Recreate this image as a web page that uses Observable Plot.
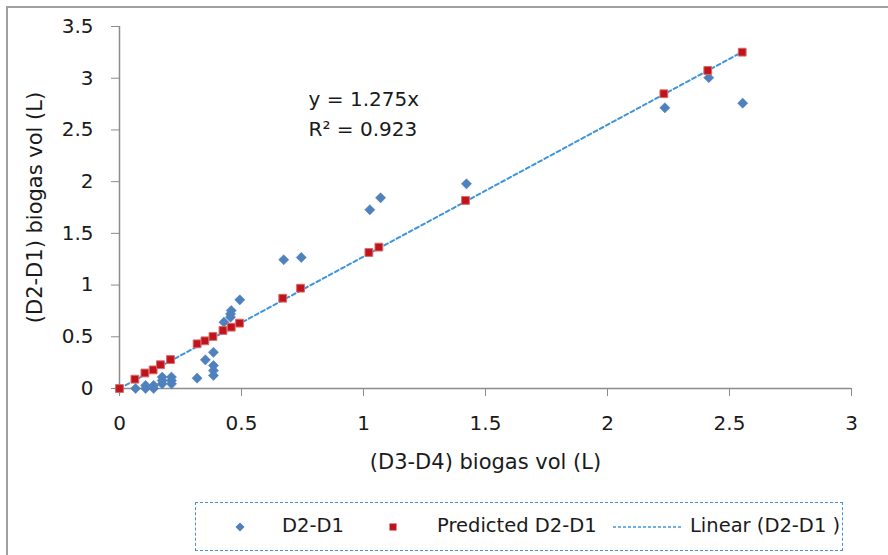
<!DOCTYPE html>
<html><head><meta charset="utf-8">
<script src="https://cdn.jsdelivr.net/npm/d3@7"></script>
<script src="https://cdn.jsdelivr.net/npm/@observablehq/plot@0.6"></script>
<style>
body{margin:0;background:#fff;}
#wrap{position:relative;width:888px;height:555px;overflow:hidden;font-family:"DejaVu Sans",sans-serif;background:#fff;}
#frame{position:absolute;left:6px;top:6px;width:900px;height:600px;border-left:2px solid #a0a0a0;border-top:2px solid #a0a0a0;pointer-events:none;}
#chart{position:absolute;left:0;top:0;}
#legend{position:absolute;left:195px;top:502px;width:648px;height:49px;border:1.5px dashed #4a8fd0;box-sizing:border-box;font-size:19.5px;color:#1a1a1a;}
#legend .it{position:absolute;top:0;height:46px;line-height:46px;white-space:nowrap;}
</style></head>
<body>
<div id="wrap">
  <div id="chart"></div>
  <div id="frame"></div>
  <div id="legend"></div>
</div>
<script>
// observed D2-D1 vs (D3-D4)
const obsX = [0, 0.066, 0.107, 0.107, 0.14, 0.14, 0.175, 0.175, 0.175, 0.213, 0.213, 0.213, 0.318, 0.352, 0.385, 0.385, 0.385, 0.385, 0.428, 0.455, 0.455, 0.458, 0.493, 0.673, 0.745, 1.026, 1.07, 1.422, 2.235, 2.415, 2.554];
const obsY = [0, 0, 0, 0.03, 0, 0.03, 0.045, 0.077, 0.11, 0.045, 0.077, 0.11, 0.1, 0.277, 0.35, 0.222, 0.174, 0.126, 0.641, 0.69, 0.72, 0.754, 0.857, 1.245, 1.267, 1.728, 1.844, 1.979, 2.714, 3.005, 2.759];
// predicted D2-D1
const predX = [0, 0.063, 0.104, 0.138, 0.168, 0.209, 0.318, 0.35, 0.383, 0.424, 0.458, 0.492, 0.669, 0.742, 1.022, 1.063, 1.418, 2.231, 2.411, 2.552];
const predY = [0, 0.09, 0.15, 0.18, 0.23, 0.28, 0.432, 0.461, 0.503, 0.561, 0.593, 0.632, 0.873, 0.97, 1.315, 1.367, 1.818, 2.85, 3.075, 3.252];
// linear trendline (through origin)
const slope = 1.275;
const r2 = 0.923;
const trendX = [0, 2.552];
const xTicks = [0, 0.5, 1, 1.5, 2, 2.5, 3];
const yTicks = [0, 0.5, 1, 1.5, 2, 2.5, 3, 3.5];
const eqLines = [`y = ${slope}x`, `R² = ${r2}`];
const eqX = [0.775, 0.775];
const eqY = [2.79, 2.5];
const legendLabels = ["D2-D1", "Predicted D2-D1", "Linear (D2-D1 )"];

const obs = obsX.map((x, i) => ({x, y: obsY[i]}));
const pred = predX.map((x, i) => ({x, y: predY[i]}));
const trend = trendX.map(x => ({x, y: slope * x}));
const eq = eqLines.map((t, i) => ({t, x: eqX[i], y: eqY[i]}));

const gray = "#8c8c8c";
const blue = "#4f81bd";
const red = "#c0141c";
const lineBlue = "#3f95dc";
const fmt = d => String(d);

const chart = Plot.plot({
  width: 888, height: 555,
  marginLeft: 119, marginRight: 37, marginTop: 26, marginBottom: 167,
  style: {fontFamily: "DejaVu Sans, sans-serif", fontSize: "20px", color: "#1a1a1a", background: "transparent"},
  x: {domain: [0, 3]},
  y: {domain: [0, 3.5]},
  marks: [
    Plot.axisX({ticks: xTicks, tickFormat: fmt, tickSize: 8, tickPadding: 19, stroke: gray, fill: "#1a1a1a", label: null}),
    Plot.axisX({ticks: [], label: "(D3-D4) biogas vol (L)", labelAnchor: "center", labelArrow: "none", labelOffset: 80, fontSize: 21, fill: "#1a1a1a"}),
    Plot.axisY({ticks: yTicks, tickFormat: fmt, tickSize: 8, tickPadding: 18, stroke: gray, fill: "#1a1a1a", label: null}),
    Plot.axisY({ticks: [], label: "(D2-D1) biogas vol (L)", labelAnchor: "center", labelArrow: "none", labelOffset: 92, fontSize: 21, fill: "#1a1a1a"}),
    Plot.ruleY([0], {stroke: gray, strokeWidth: 1.5}),
    Plot.ruleX([0], {stroke: gray, strokeWidth: 1.5}),
    Plot.line(trend, {x: "x", y: "y", stroke: lineBlue, strokeWidth: 2, strokeDasharray: "4,3"}),
    Plot.dot(obs, {x: "x", y: "y", symbol: "diamond2", r: 4.6, fill: blue, stroke: blue, strokeWidth: 0.5}),
    Plot.dot(pred, {x: "x", y: "y", symbol: "square", r: 4.4, fill: red, stroke: "#d86a6a", strokeWidth: 1}),
    Plot.text(eq, {x: "x", y: "y", text: "t", textAnchor: "start", fontSize: 20, fill: "#1a1a1a"})
  ]
});
document.getElementById("chart").appendChild(chart);

// legend
const lg = document.getElementById("legend");
const items = [
  {left: 38, html: `<svg width="12" height="12" style="vertical-align:middle"><path d="M6,1.5 L10.5,6 L6,10.5 L1.5,6Z" fill="${blue}"/></svg>`},
  {left: 86, html: legendLabels[0]},
  {left: 192, html: `<svg width="10" height="10" style="vertical-align:middle"><rect x="1.5" y="1.5" width="7" height="7" fill="${red}"/></svg>`},
  {left: 241, html: legendLabels[1]},
  {left: 417, html: `<svg width="72" height="10" style="vertical-align:middle"><line x1="0" y1="5" x2="70" y2="5" stroke="${lineBlue}" stroke-width="1.5" stroke-dasharray="3,2"/></svg>`},
  {left: 494, html: legendLabels[2]}
];
items.forEach(d => {
  const s = document.createElement("div");
  s.className = "it";
  s.style.left = d.left + "px";
  s.innerHTML = d.html;
  lg.appendChild(s);
});
</script>
</body></html>
